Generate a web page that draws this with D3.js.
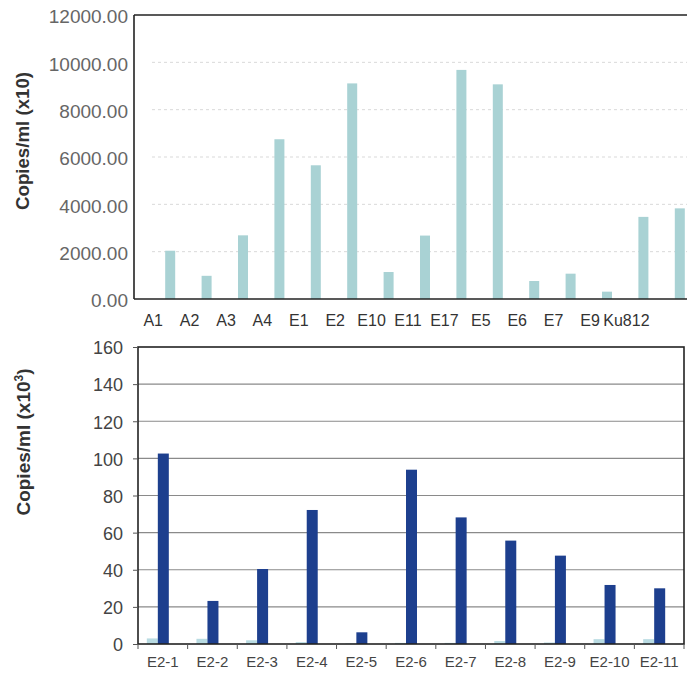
<!DOCTYPE html>
<html>
<head>
<meta charset="utf-8">
<script src="https://cdn.jsdelivr.net/npm/d3@7"></script>
<style>
  html, body { margin: 0; padding: 0; background: #ffffff; }
  svg { display: block; font-family: "Liberation Sans", Arial, sans-serif; }
</style>
</head>
<body>
<svg id="chart" width="687" height="675"></svg>
<script>
// ---- Top chart data ----
const topCategories = ["A1", "A2", "A3", "A4", "E1", "E2", "E10", "E11", "E17", "E5", "E6", "E7", "E9", "Ku812", ""];
const topValues = [2040, 980, 2690, 6750, 5650, 9110, 1140, 2680, 9680, 9070, 760, 1070, 310, 3470, 3830];
const topTicks = [0, 2000, 4000, 6000, 8000, 10000, 12000];

// ---- Bottom chart data ----
const bottomCategories = ["E2-1", "E2-2", "E2-3", "E2-4", "E2-5", "E2-6", "E2-7", "E2-8", "E2-9", "E2-10", "E2-11"];
const bottomSeriesLight = [3.0, 2.8, 2.0, 1.0, 0.3, 0.6, 0.6, 1.6, 0.8, 2.6, 2.6];
const bottomSeriesDark = [102.6, 23.2, 40.4, 72.2, 6.3, 93.9, 68.2, 55.7, 47.6, 31.8, 30.0];
const bottomTicks = [0, 20, 40, 60, 80, 100, 120, 140, 160];

const svg = d3.select("#chart");

// ================= TOP CHART =================
(function () {
  const left = 134, top = 15, bottom = 299, rightEdge = 700;
  const y = d3.scaleLinear().domain([0, 12000]).range([bottom, top]);
  const x = d3.scaleBand().domain(topCategories).range([152, 152 + 36.4 * topCategories.length]).padding(0);
  const barW = 10;
  const g = svg.append("g");

  // faint dotted gridlines
  g.selectAll("line.grid").data(topTicks.filter(t => t > 0 && t < 12000)).join("line")
    .attr("x1", left + 18).attr("x2", rightEdge)
    .attr("y1", d => y(d)).attr("y2", d => y(d))
    .attr("stroke", "#d9d9d9").attr("stroke-width", 1).attr("stroke-dasharray", "3,3");

  // bars
  g.selectAll("rect.bar").data(topValues).join("rect")
    .attr("x", (d, i) => x(topCategories[i]) + (x.bandwidth() - barW) / 2)
    .attr("y", d => y(d))
    .attr("width", barW)
    .attr("height", d => y(0) - y(d))
    .attr("fill", "#a9d2d4");

  // axis lines (top border, left, bottom)
  g.append("line").attr("x1", left).attr("x2", rightEdge).attr("y1", top).attr("y2", top)
    .attr("stroke", "#222").attr("stroke-width", 1.6);
  g.append("line").attr("x1", left).attr("x2", left).attr("y1", top).attr("y2", bottom)
    .attr("stroke", "#222").attr("stroke-width", 1.6);
  g.append("line").attr("x1", left).attr("x2", rightEdge).attr("y1", bottom).attr("y2", bottom)
    .attr("stroke", "#222").attr("stroke-width", 1.6);

  // y tick labels via axis
  const yAxis = d3.axisLeft(y).tickValues(topTicks).tickFormat(d3.format(".2f")).tickSize(0).tickPadding(6);
  const ya = g.append("g").attr("transform", `translate(${left},0)`).call(yAxis);
  ya.select(".domain").remove();
  ya.selectAll("text").attr("font-size", 19).attr("fill", "#666")
    .attr("font-family", "Liberation Sans, Arial, sans-serif").attr("dy", "0.42em");

  // x labels
  const xAxis = d3.axisBottom(x).tickSize(0).tickPadding(0);
  const xa = g.append("g").attr("transform", `translate(-17,${bottom})`).call(xAxis);
  xa.select(".domain").remove();
  xa.selectAll("text").attr("font-size", 16).attr("fill", "#333")
    .attr("font-family", "Liberation Sans, Arial, sans-serif").attr("y", 27).attr("dy", 0);

  // title
  g.append("text")
    .attr("transform", "translate(29,141) rotate(-90)")
    .attr("text-anchor", "middle")
    .attr("font-size", 18).attr("font-weight", "bold").attr("fill", "#333")
    .attr("textLength", 138).attr("lengthAdjust", "spacingAndGlyphs")
    .text("Copies/ml (x10)");
})();

// ================= BOTTOM CHART =================
(function () {
  const left = 138, right = 684, top = 347, bottom = 644;
  const y = d3.scaleLinear().domain([0, 160]).range([bottom, top]);
  const x = d3.scaleBand().domain(bottomCategories).range([left, right]).padding(0);
  const pairW = 22;
  const x1 = d3.scaleBand().domain(["light", "dark"]).range([0, pairW]).padding(0);
  const g = svg.append("g");

  // gridlines
  g.selectAll("line.grid").data(bottomTicks.filter(t => t > 0 && t < 160)).join("line")
    .attr("x1", left).attr("x2", right)
    .attr("y1", d => y(d)).attr("y2", d => y(d))
    .attr("stroke", "#8a8a8a").attr("stroke-width", 1.2);

  const groups = bottomCategories.map((c, i) => ({ c, light: bottomSeriesLight[i], dark: bottomSeriesDark[i] }));
  const gx = c => x(c) + x.bandwidth() / 2 - 5 - pairW / 2;

  g.selectAll("rect.light").data(groups).join("rect")
    .attr("x", d => gx(d.c) + x1("light"))
    .attr("y", d => y(d.light))
    .attr("width", x1.bandwidth())
    .attr("height", d => y(0) - y(d.light))
    .attr("fill", "#b9dbe2");

  g.selectAll("rect.dark").data(groups).join("rect")
    .attr("x", d => gx(d.c) + x1("dark"))
    .attr("y", d => y(d.dark))
    .attr("width", x1.bandwidth())
    .attr("height", d => y(0) - y(d.dark))
    .attr("fill", "#1d3f8e");

  // box
  g.append("rect").attr("x", left).attr("y", top).attr("width", right - left).attr("height", bottom - top)
    .attr("fill", "none").attr("stroke", "#222").attr("stroke-width", 1.6);

  // y axis
  const yAxis = d3.axisLeft(y).tickValues(bottomTicks).tickFormat(d3.format("d")).tickSize(5).tickPadding(10);
  const ya = g.append("g").attr("transform", `translate(${left},0)`).call(yAxis);
  ya.select(".domain").remove();
  ya.selectAll("line").attr("stroke", "#555");
  ya.selectAll("text").attr("font-size", 18).attr("fill", "#444")
    .attr("font-family", "Liberation Sans, Arial, sans-serif").attr("dy", "0.38em");

  // x axis ticks at band boundaries
  g.selectAll("line.xtick").data(bottomCategories.concat(["__end"])).join("line")
    .attr("x1", (d, i) => left + i * x.step()).attr("x2", (d, i) => left + i * x.step())
    .attr("y1", bottom).attr("y2", bottom + 5)
    .attr("stroke", "#555").attr("stroke-width", 1);

  const xAxis = d3.axisBottom(x).tickSize(0).tickPadding(0);
  const xa = g.append("g").attr("transform", `translate(0,${bottom})`).call(xAxis);
  xa.select(".domain").remove();
  xa.selectAll("text").attr("font-size", 15).attr("fill", "#444")
    .attr("font-family", "Liberation Sans, Arial, sans-serif").attr("y", 23).attr("dy", 0);

  // title with superscript
  const t = g.append("text")
    .attr("transform", "translate(30,442) rotate(-90)")
    .attr("text-anchor", "middle")
    .attr("font-size", 19).attr("font-weight", "bold").attr("fill", "#333");
  t.append("tspan").text("Copies/ml (x10");
  t.append("tspan").attr("font-size", 12).attr("dy", "-0.6em").text("3");
  t.append("tspan").attr("dy", "0.4em").text(")");
})();
</script>
</body>
</html>
